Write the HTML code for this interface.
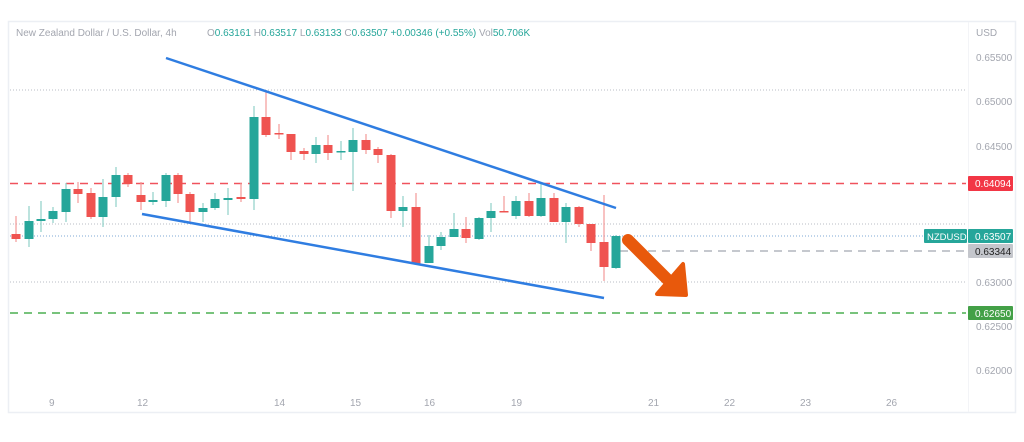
<!DOCTYPE html>
<html><head><meta charset="utf-8"><style>
html,body{margin:0;padding:0;background:#fff;}
svg{display:block;font-family:"Liberation Sans",sans-serif;}
</style></head><body>
<svg width="1024" height="442" viewBox="0 0 1024 442" xmlns="http://www.w3.org/2000/svg">
<rect x="0" y="0" width="1024" height="442" fill="#fff"/>
<rect x="8.5" y="21.5" width="1007" height="391" fill="none" stroke="#eceff4" stroke-width="1.5"/>
<line x1="968.5" y1="22" x2="968.5" y2="412" stroke="#f3f4f7"/>
<g stroke="#b8bcc4" stroke-dasharray="1,2" stroke-width="1">
<line x1="10" y1="90" x2="966" y2="90"/>
<line x1="10" y1="224" x2="966" y2="224"/>
<line x1="10" y1="282" x2="966" y2="282"/>
</g>
<line x1="10" y1="236" x2="925" y2="236" stroke="#7fa8d6" stroke-dasharray="1,2"/>
<line x1="10" y1="183.5" x2="966" y2="183.5" stroke="#f0525d" stroke-width="1.6" stroke-dasharray="8,6"/>
<line x1="10" y1="313" x2="966" y2="313" stroke="#4caf50" stroke-width="1.6" stroke-dasharray="8,6"/>
<line x1="620" y1="251" x2="966" y2="251" stroke="#b2b5be" stroke-width="1.6" stroke-dasharray="8,6"/>
<!-- wicks -->
<g stroke-width="1.2">
<g stroke="#f29a98">
<line x1="16" y1="216" x2="16" y2="242"/>
<line x1="78" y1="182" x2="78" y2="203"/>
<line x1="91" y1="188" x2="91" y2="219"/>
<line x1="128" y1="173" x2="128" y2="187"/>
<line x1="141" y1="182" x2="141" y2="210"/>
<line x1="178" y1="173" x2="178" y2="203"/>
<line x1="190" y1="192" x2="190" y2="222"/>
<line x1="241" y1="183" x2="241" y2="202"/>
<line x1="266" y1="90" x2="266" y2="137"/>
<line x1="279" y1="124" x2="279" y2="139"/>
<line x1="291" y1="134" x2="291" y2="160"/>
<line x1="304" y1="148" x2="304" y2="160"/>
<line x1="328" y1="135" x2="328" y2="160"/>
<line x1="366" y1="134" x2="366" y2="154"/>
<line x1="378" y1="147" x2="378" y2="163"/>
<line x1="391" y1="154" x2="391" y2="218"/>
<line x1="416" y1="193" x2="416" y2="264"/>
<line x1="466" y1="217" x2="466" y2="243"/>
<line x1="504" y1="196" x2="504" y2="212"/>
<line x1="529" y1="193" x2="529" y2="217"/>
<line x1="554" y1="193" x2="554" y2="222"/>
<line x1="579" y1="206" x2="579" y2="227"/>
<line x1="591" y1="224" x2="591" y2="251"/>
<line x1="604" y1="195" x2="604" y2="281"/>
</g>
<g stroke="#8fd0c8">
<line x1="29" y1="206" x2="29" y2="247"/>
<line x1="41" y1="201" x2="41" y2="232"/>
<line x1="53" y1="207" x2="53" y2="223"/>
<line x1="66" y1="183" x2="66" y2="222"/>
<line x1="103" y1="179" x2="103" y2="227"/>
<line x1="116" y1="167" x2="116" y2="207"/>
<line x1="153" y1="192" x2="153" y2="205"/>
<line x1="166" y1="173" x2="166" y2="207"/>
<line x1="203" y1="203" x2="203" y2="222"/>
<line x1="215" y1="193" x2="215" y2="210"/>
<line x1="228" y1="188" x2="228" y2="215"/>
<line x1="254" y1="106" x2="254" y2="210"/>
<line x1="316" y1="137" x2="316" y2="163"/>
<line x1="341" y1="141" x2="341" y2="160"/>
<line x1="353" y1="128" x2="353" y2="191"/>
<line x1="403" y1="196" x2="403" y2="227"/>
<line x1="429" y1="235" x2="429" y2="263"/>
<line x1="441" y1="232" x2="441" y2="250"/>
<line x1="454" y1="213" x2="454" y2="237"/>
<line x1="479" y1="217" x2="479" y2="240"/>
<line x1="491" y1="203" x2="491" y2="232"/>
<line x1="516" y1="196" x2="516" y2="219"/>
<line x1="541" y1="183" x2="541" y2="217"/>
<line x1="566" y1="203" x2="566" y2="243"/>
<line x1="616" y1="235" x2="616" y2="269"/>
</g>
</g>
<!-- bodies -->
<g fill="#ef5350">
<rect x="11.5" y="234" width="9" height="5"/>
<rect x="73.5" y="189" width="9" height="5"/>
<rect x="86.5" y="193" width="9" height="24"/>
<rect x="123.5" y="175" width="9" height="9"/>
<rect x="136.5" y="195" width="9" height="7"/>
<rect x="173.5" y="175" width="9" height="19"/>
<rect x="185.5" y="194" width="9" height="18"/>
<rect x="236.5" y="197" width="9" height="2"/>
<rect x="261.5" y="117" width="9" height="18"/>
<rect x="274.5" y="133" width="9" height="1.5"/>
<rect x="286.5" y="134" width="9" height="18"/>
<rect x="299.5" y="151" width="9" height="3"/>
<rect x="323.5" y="145" width="9" height="8"/>
<rect x="361.5" y="140" width="9" height="10"/>
<rect x="373.5" y="149" width="9" height="6"/>
<rect x="386.5" y="155" width="9" height="56"/>
<rect x="411.5" y="207" width="9" height="57"/>
<rect x="461.5" y="229" width="9" height="9"/>
<rect x="499.5" y="211" width="9" height="1.5"/>
<rect x="524.5" y="201" width="9" height="15"/>
<rect x="549.5" y="198" width="9" height="24"/>
<rect x="574.5" y="207" width="9" height="17"/>
<rect x="586.5" y="224" width="9" height="19"/>
<rect x="599.5" y="242" width="9" height="25"/>
</g>
<g fill="#26a69a">
<rect x="24.5" y="221" width="9" height="18"/>
<rect x="36.5" y="219" width="9" height="2"/>
<rect x="48.5" y="211" width="9" height="8"/>
<rect x="61.5" y="189" width="9" height="23"/>
<rect x="98.5" y="197" width="9" height="20"/>
<rect x="111.5" y="175" width="9" height="22"/>
<rect x="148.5" y="200" width="9" height="2"/>
<rect x="161.5" y="175" width="9" height="26"/>
<rect x="198.5" y="208" width="9" height="4"/>
<rect x="210.5" y="199" width="9" height="9"/>
<rect x="223.5" y="198" width="9" height="2"/>
<rect x="249.5" y="117" width="9" height="82"/>
<rect x="311.5" y="145" width="9" height="9"/>
<rect x="336.5" y="151" width="9" height="1.5"/>
<rect x="348.5" y="140" width="9" height="12"/>
<rect x="398.5" y="207" width="9" height="4"/>
<rect x="424.5" y="246" width="9" height="17"/>
<rect x="436.5" y="237" width="9" height="9"/>
<rect x="449.5" y="229" width="9" height="8"/>
<rect x="474.5" y="218" width="9" height="21"/>
<rect x="486.5" y="211" width="9" height="7"/>
<rect x="511.5" y="201" width="9" height="15"/>
<rect x="536.5" y="198" width="9" height="18"/>
<rect x="561.5" y="207" width="9" height="15"/>
<rect x="611.5" y="236" width="9" height="32"/>
</g>
<line x1="166" y1="58" x2="616" y2="208" stroke="#2f7de1" stroke-width="2.5"/>
<line x1="142" y1="214" x2="604" y2="298" stroke="#2f7de1" stroke-width="2.5"/>
<line x1="628" y1="240" x2="670" y2="282" stroke="#e8590c" stroke-width="12" stroke-linecap="round"/>
<polygon points="683,264 686,295 657,294" fill="#e8590c" stroke="#e8590c" stroke-width="4" stroke-linejoin="round"/>
<text x="16" y="36" font-size="10" fill="#a3a6af">New Zealand Dollar / U.S. Dollar, 4h</text>
<text x="207" y="36" font-size="10" fill="#26a69a"><tspan fill="#a3a6af">O</tspan>0.63161 <tspan fill="#a3a6af">H</tspan>0.63517 <tspan fill="#a3a6af">L</tspan>0.63133 <tspan fill="#a3a6af">C</tspan>0.63507 +0.00346 (+0.55%) <tspan fill="#a3a6af">Vol</tspan>50.706K</text>
<g font-size="10" fill="#a3a6af">
<text x="976" y="36">USD</text>
<text x="976" y="61">0.65500</text>
<text x="976" y="105">0.65000</text>
<text x="976" y="150">0.64500</text>
<text x="976" y="286">0.63000</text>
<text x="976" y="330">0.62500</text>
<text x="976" y="374">0.62000</text>
<text x="49" y="406">9</text>
<text x="137" y="406">12</text>
<text x="274" y="406">14</text>
<text x="350" y="406">15</text>
<text x="424" y="406">16</text>
<text x="511" y="406">19</text>
<text x="648" y="406">21</text>
<text x="724" y="406">22</text>
<text x="800" y="406">23</text>
<text x="886" y="406">26</text>
</g>
<rect x="968" y="176" width="45" height="15" fill="#f23645" rx="1"/>
<text x="975" y="187" font-size="10" fill="#fff">0.64094</text>
<rect x="924" y="229" width="43" height="14" fill="#26a69a" rx="1"/>
<text x="927" y="240" font-size="9.5" fill="#fff">NZDUSD</text>
<rect x="968" y="229" width="45" height="14" fill="#26a69a" rx="1"/>
<text x="975" y="240" font-size="10" fill="#fff">0.63507</text>
<rect x="968" y="244" width="45" height="14" fill="#c4c6cc" rx="1"/>
<text x="975" y="255" font-size="10" fill="#222">0.63344</text>
<rect x="968" y="306" width="45" height="14" fill="#43a047" rx="1"/>
<text x="975" y="317" font-size="10" fill="#fff">0.62650</text>
</svg>
</body></html>
